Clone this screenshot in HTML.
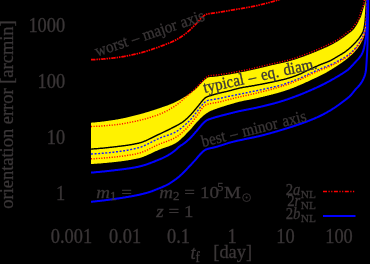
<!DOCTYPE html>
<html><head><meta charset="utf-8"><title>plot</title>
<style>
html,body{margin:0;padding:0;background:#000;}
body{width:370px;height:264px;overflow:hidden;}
svg{display:block;will-change:transform;}
text{font-family:"Liberation Serif",serif;fill:#3a3637;stroke:#3a3637;stroke-width:0.3px;}
</style></head><body>
<svg width="370" height="264" viewBox="0 0 370 264">
<rect width="370" height="264" fill="#000"/>
<path d="M91.0 122.7L91.5 122.7L92.0 122.6L92.5 122.6L93.0 122.6L93.5 122.5L94.0 122.5L94.5 122.4L95.0 122.4L95.5 122.3L96.0 122.3L96.5 122.2L97.0 122.2L97.5 122.1L98.0 122.1L98.5 122.0L99.0 122.0L99.5 121.9L100.0 121.9L100.5 121.8L101.0 121.8L101.5 121.7L102.0 121.6L102.5 121.6L103.0 121.5L103.5 121.4L104.0 121.4L104.5 121.3L105.0 121.3L105.5 121.2L106.0 121.1L106.5 121.1L107.0 121.0L107.5 120.9L108.0 120.8L108.5 120.8L109.0 120.7L109.5 120.6L110.0 120.6L110.5 120.5L111.0 120.4L111.5 120.3L112.0 120.3L112.5 120.2L113.0 120.1L113.5 120.0L114.0 120.0L114.5 119.9L115.0 119.8L115.5 119.7L116.0 119.6L116.5 119.6L117.0 119.5L117.5 119.4L118.0 119.3L118.5 119.2L119.0 119.1L119.5 119.0L120.0 118.9L120.5 118.8L121.0 118.7L121.5 118.6L122.0 118.5L122.5 118.4L123.0 118.3L123.5 118.2L124.0 118.1L124.5 118.0L125.0 117.9L125.5 117.8L126.0 117.7L126.5 117.5L127.0 117.4L127.5 117.3L128.0 117.2L128.5 117.1L129.0 117.0L129.5 116.8L130.0 116.7L130.5 116.6L131.0 116.5L131.5 116.3L132.0 116.2L132.5 116.1L133.0 116.0L133.5 115.8L134.0 115.7L134.5 115.6L135.0 115.5L135.5 115.3L136.0 115.2L136.5 115.1L137.0 115.0L137.5 114.8L138.0 114.7L138.5 114.6L139.0 114.4L139.5 114.3L140.0 114.2L140.5 114.0L141.0 113.9L141.5 113.8L142.0 113.6L142.5 113.5L143.0 113.4L143.5 113.2L144.0 113.1L144.5 112.9L145.0 112.8L145.5 112.6L146.0 112.5L146.5 112.3L147.0 112.2L147.5 112.0L148.0 111.9L148.5 111.7L149.0 111.6L149.5 111.4L150.0 111.3L150.5 111.1L151.0 111.0L151.5 110.8L152.0 110.6L152.5 110.5L153.0 110.3L153.5 110.2L154.0 110.0L154.5 109.8L155.0 109.7L155.5 109.5L156.0 109.3L156.5 109.2L157.0 109.0L157.5 108.8L158.0 108.7L158.5 108.5L159.0 108.3L159.5 108.2L160.0 108.0L160.5 107.8L161.0 107.7L161.5 107.5L162.0 107.3L162.5 107.1L163.0 107.0L163.5 106.8L164.0 106.6L164.5 106.5L165.0 106.3L165.5 106.1L166.0 105.9L166.5 105.7L167.0 105.6L167.5 105.4L168.0 105.2L168.5 105.0L169.0 104.8L169.5 104.6L170.0 104.4L170.5 104.2L171.0 104.0L171.5 103.8L172.0 103.6L172.5 103.4L173.0 103.2L173.5 103.0L174.0 102.8L174.5 102.5L175.0 102.3L175.5 102.1L176.0 101.8L176.5 101.6L177.0 101.3L177.5 101.1L178.0 100.8L178.5 100.5L179.0 100.3L179.5 100.0L180.0 99.7L180.5 99.4L181.0 99.1L181.5 98.8L182.0 98.5L182.5 98.2L183.0 97.9L183.5 97.6L184.0 97.3L184.5 97.0L185.0 96.7L185.5 96.4L186.0 96.1L186.5 95.8L187.0 95.4L187.5 95.1L188.0 94.8L188.5 94.4L189.0 94.1L189.5 93.8L190.0 93.4L190.5 93.1L191.0 92.7L191.5 92.4L192.0 92.0L192.5 91.6L193.0 91.2L193.5 90.8L194.0 90.4L194.5 90.0L195.0 89.6L195.5 89.2L196.0 88.7L196.5 88.2L197.0 87.7L197.5 87.2L198.0 86.7L198.5 86.2L199.0 85.6L199.5 85.1L200.0 84.5L200.5 84.0L201.0 83.5L201.5 83.0L202.0 82.5L202.5 82.0L203.0 81.5L203.5 81.0L204.0 80.5L204.5 80.0L205.0 79.6L205.5 79.2L206.0 78.8L206.5 78.4L207.0 78.1L207.5 77.8L208.0 77.5L208.5 77.3L209.0 77.2L209.5 77.2L210.0 77.1L210.5 77.0L211.0 77.0L211.5 77.0L212.0 76.9L212.5 76.9L213.0 76.9L213.5 76.8L214.0 76.8L214.5 76.8L215.0 76.7L215.5 76.6L216.0 76.6L216.5 76.5L217.0 76.5L217.5 76.4L218.0 76.3L218.5 76.2L219.0 76.2L219.5 76.1L220.0 76.0L220.5 75.9L221.0 75.9L221.5 75.8L222.0 75.7L222.5 75.6L223.0 75.5L223.5 75.4L224.0 75.4L224.5 75.3L225.0 75.2L225.5 75.1L226.0 75.0L226.5 75.0L227.0 74.9L227.5 74.8L228.0 74.7L228.5 74.6L229.0 74.5L229.5 74.4L230.0 74.4L230.5 74.3L231.0 74.2L231.5 74.1L232.0 74.0L232.5 73.9L233.0 73.8L233.5 73.7L234.0 73.6L234.5 73.5L235.0 73.5L235.5 73.4L236.0 73.3L236.5 73.2L237.0 73.1L237.5 73.0L238.0 72.9L238.5 72.8L239.0 72.7L239.5 72.6L240.0 72.5L240.5 72.4L241.0 72.3L241.5 72.2L242.0 72.1L242.5 72.0L243.0 71.9L243.5 71.8L244.0 71.7L244.5 71.6L245.0 71.5L245.5 71.4L246.0 71.3L246.5 71.2L247.0 71.1L247.5 71.0L248.0 70.8L248.5 70.7L249.0 70.6L249.5 70.5L250.0 70.4L250.5 70.3L251.0 70.2L251.5 70.1L252.0 70.0L252.5 69.9L253.0 69.7L253.5 69.6L254.0 69.5L254.5 69.4L255.0 69.3L255.5 69.2L256.0 69.1L256.5 69.0L257.0 68.8L257.5 68.7L258.0 68.6L258.5 68.5L259.0 68.4L259.5 68.2L260.0 68.1L260.5 68.0L261.0 67.9L261.5 67.8L262.0 67.6L262.5 67.5L263.0 67.4L263.5 67.3L264.0 67.2L264.5 67.0L265.0 66.9L265.5 66.8L266.0 66.7L266.5 66.5L267.0 66.4L267.5 66.3L268.0 66.2L268.5 66.1L269.0 65.9L269.5 65.8L270.0 65.7L270.5 65.6L271.0 65.5L271.5 65.3L272.0 65.2L272.5 65.1L273.0 65.0L273.5 64.9L274.0 64.8L274.5 64.7L275.0 64.6L275.5 64.4L276.0 64.3L276.5 64.2L277.0 64.1L277.5 64.0L278.0 63.9L278.5 63.8L279.0 63.7L279.5 63.6L280.0 63.5L280.5 63.3L281.0 63.2L281.5 63.1L282.0 63.0L282.5 62.9L283.0 62.8L283.5 62.7L284.0 62.5L284.5 62.4L285.0 62.3L285.5 62.2L286.0 62.0L286.5 61.9L287.0 61.8L287.5 61.7L288.0 61.5L288.5 61.4L289.0 61.3L289.5 61.1L290.0 61.0L290.5 60.9L291.0 60.7L291.5 60.6L292.0 60.4L292.5 60.3L293.0 60.1L293.5 60.0L294.0 59.8L294.5 59.7L295.0 59.5L295.5 59.3L296.0 59.2L296.5 59.0L297.0 58.8L297.5 58.7L298.0 58.5L298.5 58.3L299.0 58.1L299.5 58.0L300.0 57.8L300.5 57.6L301.0 57.4L301.5 57.3L302.0 57.1L302.5 56.9L303.0 56.7L303.5 56.5L304.0 56.4L304.5 56.2L305.0 56.0L305.5 55.8L306.0 55.6L306.5 55.4L307.0 55.3L307.5 55.1L308.0 54.9L308.5 54.7L309.0 54.5L309.5 54.3L310.0 54.1L310.5 53.9L311.0 53.7L311.5 53.5L312.0 53.3L312.5 53.1L313.0 52.9L313.5 52.7L314.0 52.5L314.5 52.3L315.0 52.1L315.5 51.9L316.0 51.7L316.5 51.5L317.0 51.3L317.5 51.1L318.0 50.8L318.5 50.6L319.0 50.4L319.5 50.2L320.0 50.0L320.5 49.8L321.0 49.6L321.5 49.4L322.0 49.1L322.5 48.9L323.0 48.7L323.5 48.5L324.0 48.3L324.5 48.1L325.0 47.8L325.5 47.6L326.0 47.4L326.5 47.2L327.0 46.9L327.5 46.7L328.0 46.5L328.5 46.2L329.0 46.0L329.5 45.7L330.0 45.5L330.5 45.2L331.0 45.0L331.5 44.7L332.0 44.5L332.5 44.2L333.0 43.9L333.5 43.7L334.0 43.4L334.5 43.1L335.0 42.8L335.5 42.5L336.0 42.2L336.5 41.9L337.0 41.7L337.5 41.4L338.0 41.0L338.5 40.7L339.0 40.4L339.5 40.1L340.0 39.8L340.5 39.5L341.0 39.1L341.5 38.8L342.0 38.5L342.5 38.1L343.0 37.8L343.5 37.4L344.0 37.0L344.5 36.7L345.0 36.3L345.5 35.9L346.0 35.6L346.5 35.2L347.0 34.8L347.5 34.4L348.0 34.1L348.5 33.7L349.0 33.3L349.5 33.0L350.0 32.6L350.5 32.2L351.0 31.8L351.5 31.4L352.0 31.0L352.5 30.5L353.0 30.0L353.5 29.5L354.0 28.9L354.5 28.2L355.0 27.6L355.5 26.8L356.0 26.1L356.5 25.3L357.0 24.5L357.5 23.6L358.0 22.7L358.5 21.6L359.0 20.6L359.5 19.6L360.0 18.6L360.5 17.7L361.0 16.5L361.5 15.1L362.0 13.4L362.5 11.6L363.0 9.8L363.5 8.0L364.0 6.4L364.5 5.0L365.0 3.3L365.5 1.0L366.0 -3.0L367.7 -3.0L367.5 0.0L367.0 13.3L366.5 22.6L366.0 27.8L365.5 31.0L365.0 33.1L364.5 35.0L364.0 36.6L363.5 37.9L363.0 39.1L362.5 40.2L362.0 41.2L361.5 42.1L361.0 43.0L360.5 43.9L360.0 44.7L359.5 45.5L359.0 46.3L358.5 47.0L358.0 47.7L357.5 48.4L357.0 49.0L356.5 49.6L356.0 50.2L355.5 50.8L355.0 51.3L354.5 51.9L354.0 52.4L353.5 53.0L353.0 53.5L352.5 53.9L352.0 54.4L351.5 54.9L351.0 55.3L350.5 55.8L350.0 56.2L349.5 56.6L349.0 57.1L348.5 57.5L348.0 57.9L347.5 58.4L347.0 58.8L346.5 59.2L346.0 59.6L345.5 60.0L345.0 60.4L344.5 60.7L344.0 61.1L343.5 61.5L343.0 61.8L342.5 62.2L342.0 62.5L341.5 62.9L341.0 63.2L340.5 63.5L340.0 63.9L339.5 64.2L339.0 64.6L338.5 64.9L338.0 65.2L337.5 65.6L337.0 65.9L336.5 66.2L336.0 66.6L335.5 66.9L335.0 67.2L334.5 67.5L334.0 67.8L333.5 68.2L333.0 68.5L332.5 68.8L332.0 69.1L331.5 69.4L331.0 69.7L330.5 70.0L330.0 70.3L329.5 70.6L329.0 70.9L328.5 71.2L328.0 71.5L327.5 71.8L327.0 72.1L326.5 72.4L326.0 72.7L325.5 72.9L325.0 73.2L324.5 73.5L324.0 73.7L323.5 74.0L323.0 74.2L322.5 74.5L322.0 74.7L321.5 75.0L321.0 75.2L320.5 75.5L320.0 75.7L319.5 75.9L319.0 76.2L318.5 76.4L318.0 76.7L317.5 76.9L317.0 77.2L316.5 77.4L316.0 77.7L315.5 77.9L315.0 78.1L314.5 78.4L314.0 78.6L313.5 78.9L313.0 79.1L312.5 79.3L312.0 79.6L311.5 79.8L311.0 80.0L310.5 80.3L310.0 80.5L309.5 80.7L309.0 81.0L308.5 81.2L308.0 81.4L307.5 81.7L307.0 81.9L306.5 82.1L306.0 82.3L305.5 82.6L305.0 82.8L304.5 83.0L304.0 83.3L303.5 83.5L303.0 83.7L302.5 83.9L302.0 84.1L301.5 84.4L301.0 84.6L300.5 84.8L300.0 85.0L299.5 85.2L299.0 85.4L298.5 85.6L298.0 85.8L297.5 86.1L297.0 86.3L296.5 86.5L296.0 86.7L295.5 86.9L295.0 87.1L294.5 87.3L294.0 87.5L293.5 87.7L293.0 87.9L292.5 88.1L292.0 88.3L291.5 88.4L291.0 88.6L290.5 88.8L290.0 89.0L289.5 89.2L289.0 89.4L288.5 89.5L288.0 89.7L287.5 89.9L287.0 90.1L286.5 90.2L286.0 90.4L285.5 90.6L285.0 90.7L284.5 90.9L284.0 91.1L283.5 91.2L283.0 91.4L282.5 91.5L282.0 91.7L281.5 91.8L281.0 92.0L280.5 92.2L280.0 92.3L279.5 92.4L279.0 92.6L278.5 92.7L278.0 92.9L277.5 93.0L277.0 93.2L276.5 93.3L276.0 93.4L275.5 93.6L275.0 93.7L274.5 93.8L274.0 94.0L273.5 94.1L273.0 94.2L272.5 94.4L272.0 94.5L271.5 94.6L271.0 94.7L270.5 94.9L270.0 95.0L269.5 95.1L269.0 95.3L268.5 95.4L268.0 95.5L267.5 95.6L267.0 95.8L266.5 95.9L266.0 96.0L265.5 96.1L265.0 96.3L264.5 96.4L264.0 96.5L263.5 96.6L263.0 96.7L262.5 96.9L262.0 97.0L261.5 97.1L261.0 97.2L260.5 97.3L260.0 97.5L259.5 97.6L259.0 97.7L258.5 97.8L258.0 97.9L257.5 98.0L257.0 98.2L256.5 98.3L256.0 98.4L255.5 98.5L255.0 98.6L254.5 98.7L254.0 98.8L253.5 98.9L253.0 99.0L252.5 99.1L252.0 99.2L251.5 99.3L251.0 99.4L250.5 99.5L250.0 99.6L249.5 99.7L249.0 99.8L248.5 99.9L248.0 100.0L247.5 100.1L247.0 100.2L246.5 100.3L246.0 100.3L245.5 100.4L245.0 100.5L244.5 100.6L244.0 100.7L243.5 100.8L243.0 100.9L242.5 101.0L242.0 101.2L241.5 101.3L241.0 101.4L240.5 101.5L240.0 101.6L239.5 101.7L239.0 101.8L238.5 102.0L238.0 102.1L237.5 102.2L237.0 102.4L236.5 102.5L236.0 102.6L235.5 102.8L235.0 102.9L234.5 103.1L234.0 103.2L233.5 103.4L233.0 103.5L232.5 103.7L232.0 103.8L231.5 104.0L231.0 104.1L230.5 104.3L230.0 104.4L229.5 104.5L229.0 104.7L228.5 104.8L228.0 105.0L227.5 105.1L227.0 105.3L226.5 105.4L226.0 105.6L225.5 105.7L225.0 105.9L224.5 106.1L224.0 106.2L223.5 106.4L223.0 106.5L222.5 106.7L222.0 106.8L221.5 107.0L221.0 107.2L220.5 107.3L220.0 107.5L219.5 107.7L219.0 107.8L218.5 108.0L218.0 108.2L217.5 108.3L217.0 108.5L216.5 108.7L216.0 108.9L215.5 109.1L215.0 109.2L214.5 109.4L214.0 109.6L213.5 109.8L213.0 110.0L212.5 110.2L212.0 110.4L211.5 110.6L211.0 110.8L210.5 111.1L210.0 111.3L209.5 111.6L209.0 111.8L208.5 112.1L208.0 112.4L207.5 112.7L207.0 113.0L206.5 113.3L206.0 113.7L205.5 114.0L205.0 114.4L204.5 114.8L204.0 115.2L203.5 115.6L203.0 116.0L202.5 116.4L202.0 116.9L201.5 117.4L201.0 117.8L200.5 118.3L200.0 118.8L199.5 119.4L199.0 119.9L198.5 120.4L198.0 120.9L197.5 121.5L197.0 122.0L196.5 122.5L196.0 123.1L195.5 123.7L195.0 124.3L194.5 124.8L194.0 125.4L193.5 126.0L193.0 126.6L192.5 127.2L192.0 127.8L191.5 128.4L191.0 128.9L190.5 129.5L190.0 130.0L189.5 130.5L189.0 131.0L188.5 131.5L188.0 132.1L187.5 132.6L187.0 133.1L186.5 133.6L186.0 134.1L185.5 134.7L185.0 135.2L184.5 135.7L184.0 136.2L183.5 136.7L183.0 137.2L182.5 137.6L182.0 138.1L181.5 138.6L181.0 139.0L180.5 139.5L180.0 139.9L179.5 140.3L179.0 140.8L178.5 141.2L178.0 141.5L177.5 141.9L177.0 142.3L176.5 142.6L176.0 142.9L175.5 143.2L175.0 143.5L174.5 143.8L174.0 144.0L173.5 144.3L173.0 144.5L172.5 144.7L172.0 145.0L171.5 145.2L171.0 145.4L170.5 145.6L170.0 145.8L169.5 146.0L169.0 146.2L168.5 146.4L168.0 146.5L167.5 146.7L167.0 146.9L166.5 147.1L166.0 147.2L165.5 147.4L165.0 147.6L164.5 147.8L164.0 147.9L163.5 148.1L163.0 148.3L162.5 148.5L162.0 148.6L161.5 148.8L161.0 149.0L160.5 149.2L160.0 149.4L159.5 149.6L159.0 149.8L158.5 150.0L158.0 150.2L157.5 150.5L157.0 150.7L156.5 150.9L156.0 151.1L155.5 151.3L155.0 151.6L154.5 151.8L154.0 152.0L153.5 152.3L153.0 152.5L152.5 152.7L152.0 153.0L151.5 153.2L151.0 153.5L150.5 153.7L150.0 153.9L149.5 154.1L149.0 154.4L148.5 154.6L148.0 154.8L147.5 155.1L147.0 155.3L146.5 155.5L146.0 155.7L145.5 155.9L145.0 156.1L144.5 156.3L144.0 156.5L143.5 156.7L143.0 156.9L142.5 157.1L142.0 157.2L141.5 157.4L141.0 157.6L140.5 157.7L140.0 157.9L139.5 158.0L139.0 158.2L138.5 158.3L138.0 158.4L137.5 158.5L137.0 158.6L136.5 158.7L136.0 158.8L135.5 158.9L135.0 159.0L134.5 159.1L134.0 159.2L133.5 159.3L133.0 159.4L132.5 159.5L132.0 159.6L131.5 159.7L131.0 159.8L130.5 159.9L130.0 160.0L129.5 160.1L129.0 160.1L128.5 160.2L128.0 160.3L127.5 160.4L127.0 160.5L126.5 160.5L126.0 160.6L125.5 160.7L125.0 160.8L124.5 160.8L124.0 160.9L123.5 161.0L123.0 161.0L122.5 161.1L122.0 161.2L121.5 161.2L121.0 161.3L120.5 161.4L120.0 161.4L119.5 161.5L119.0 161.5L118.5 161.6L118.0 161.7L117.5 161.7L117.0 161.8L116.5 161.8L116.0 161.9L115.5 161.9L115.0 162.0L114.5 162.1L114.0 162.1L113.5 162.2L113.0 162.2L112.5 162.3L112.0 162.3L111.5 162.4L111.0 162.4L110.5 162.5L110.0 162.5L109.5 162.6L109.0 162.6L108.5 162.7L108.0 162.7L107.5 162.8L107.0 162.8L106.5 162.9L106.0 162.9L105.5 163.0L105.0 163.0L104.5 163.1L104.0 163.1L103.5 163.1L103.0 163.2L102.5 163.2L102.0 163.3L101.5 163.3L101.0 163.4L100.5 163.4L100.0 163.4L99.5 163.5L99.0 163.5L98.5 163.5L98.0 163.6L97.5 163.6L97.0 163.7L96.5 163.7L96.0 163.7L95.5 163.8L95.0 163.8L94.5 163.8L94.0 163.8L93.5 163.9L93.0 163.9L92.5 163.9L92.0 164.0L91.5 164.0L91.0 164.0Z" fill="#fff200"/>
<path d="M91.0 149.1L91.5 149.1L92.0 149.0L92.5 149.0L93.0 149.0L93.5 148.9L94.0 148.9L94.5 148.8L95.0 148.8L95.5 148.8L96.0 148.7L96.5 148.7L97.0 148.6L97.5 148.6L98.0 148.6L98.5 148.5L99.0 148.5L99.5 148.4L100.0 148.4L100.5 148.3L101.0 148.3L101.5 148.2L102.0 148.2L102.5 148.2L103.0 148.1L103.5 148.1L104.0 148.0L104.5 148.0L105.0 147.9L105.5 147.9L106.0 147.8L106.5 147.7L107.0 147.7L107.5 147.6L108.0 147.6L108.5 147.5L109.0 147.5L109.5 147.4L110.0 147.4L110.5 147.3L111.0 147.3L111.5 147.2L112.0 147.1L112.5 147.1L113.0 147.0L113.5 147.0L114.0 146.9L114.5 146.9L115.0 146.8L115.5 146.7L116.0 146.7L116.5 146.6L117.0 146.6L117.5 146.5L118.0 146.4L118.5 146.4L119.0 146.3L119.5 146.3L120.0 146.2L120.5 146.1L121.0 146.1L121.5 146.0L122.0 146.0L122.5 145.9L123.0 145.8L123.5 145.8L124.0 145.7L124.5 145.6L125.0 145.6L125.5 145.5L126.0 145.4L126.5 145.4L127.0 145.3L127.5 145.2L128.0 145.1L128.5 145.1L129.0 145.0L129.5 144.9L130.0 144.8L130.5 144.7L131.0 144.7L131.5 144.6L132.0 144.5L132.5 144.4L133.0 144.3L133.5 144.2L134.0 144.1L134.5 144.0L135.0 143.9L135.5 143.8L136.0 143.7L136.5 143.6L137.0 143.5L137.5 143.4L138.0 143.3L138.5 143.2L139.0 143.1L139.5 142.9L140.0 142.8L140.5 142.6L141.0 142.5L141.5 142.3L142.0 142.1L142.5 142.0L143.0 141.8L143.5 141.6L144.0 141.4L144.5 141.2L145.0 141.0L145.5 140.8L146.0 140.6L146.5 140.3L147.0 140.1L147.5 139.9L148.0 139.7L148.5 139.4L149.0 139.2L149.5 138.9L150.0 138.7L150.5 138.5L151.0 138.2L151.5 138.0L152.0 137.7L152.5 137.5L153.0 137.2L153.5 137.0L154.0 136.7L154.5 136.5L155.0 136.2L155.5 136.0L156.0 135.7L156.5 135.5L157.0 135.2L157.5 135.0L158.0 134.7L158.5 134.5L159.0 134.3L159.5 134.0L160.0 133.8L160.5 133.6L161.0 133.3L161.5 133.1L162.0 132.9L162.5 132.6L163.0 132.4L163.5 132.2L164.0 131.9L164.5 131.7L165.0 131.5L165.5 131.2L166.0 131.0L166.5 130.7L167.0 130.5L167.5 130.3L168.0 130.0L168.5 129.8L169.0 129.5L169.5 129.3L170.0 129.0L170.5 128.8L171.0 128.5L171.5 128.2L172.0 128.0L172.5 127.7L173.0 127.5L173.5 127.2L174.0 127.0L174.5 126.7L175.0 126.5L175.5 126.2L176.0 126.0L176.5 125.7L177.0 125.4L177.5 125.2L178.0 124.9L178.5 124.6L179.0 124.3L179.5 124.0L180.0 123.7L180.5 123.4L181.0 123.1L181.5 122.8L182.0 122.5L182.5 122.1L183.0 121.8L183.5 121.4L184.0 121.0L184.5 120.6L185.0 120.2L185.5 119.8L186.0 119.3L186.5 118.9L187.0 118.4L187.5 118.0L188.0 117.5L188.5 117.0L189.0 116.5L189.5 116.0L190.0 115.5L190.5 115.0L191.0 114.5L191.5 113.9L192.0 113.3L192.5 112.8L193.0 112.2L193.5 111.6L194.0 111.0L194.5 110.4L195.0 109.8L195.5 109.2L196.0 108.6L196.5 108.0L197.0 107.4L197.5 106.8L198.0 106.2L198.5 105.6L199.0 105.0L199.5 104.3L200.0 103.7L200.5 103.1L201.0 102.4L201.5 101.8L202.0 101.2L202.5 100.6L203.0 100.0L203.5 99.5L204.0 99.0L204.5 98.6L205.0 98.1L205.5 97.7L206.0 97.4L206.5 97.1L207.0 96.8L207.5 96.6L208.0 96.4L208.5 96.2L209.0 96.1L209.5 95.9L210.0 95.8L210.5 95.6L211.0 95.5L211.5 95.3L212.0 95.2L212.5 95.0L213.0 94.9L213.5 94.7L214.0 94.6L214.5 94.4L215.0 94.3L215.5 94.2L216.0 94.0L216.5 93.9L217.0 93.8L217.5 93.6L218.0 93.5L218.5 93.4L219.0 93.3L219.5 93.1L220.0 93.0L220.5 92.9L221.0 92.8L221.5 92.7L222.0 92.5L222.5 92.4L223.0 92.3L223.5 92.2L224.0 92.1L224.5 91.9L225.0 91.8L225.5 91.7L226.0 91.6L226.5 91.5L227.0 91.3L227.5 91.2L228.0 91.1L228.5 91.0L229.0 90.9L229.5 90.7L230.0 90.6L230.5 90.5L231.0 90.3L231.5 90.2L232.0 90.1L232.5 89.9L233.0 89.8L233.5 89.7L234.0 89.5L234.5 89.4L235.0 89.2L235.5 89.1L236.0 89.0L236.5 88.8L237.0 88.7L237.5 88.6L238.0 88.5L238.5 88.3L239.0 88.2L239.5 88.1L240.0 88.0L240.5 87.9L241.0 87.8L241.5 87.7L242.0 87.6L242.5 87.5L243.0 87.4L243.5 87.3L244.0 87.2L244.5 87.1L245.0 87.1L245.5 87.0L246.0 86.9L246.5 86.8L247.0 86.7L247.5 86.7L248.0 86.6L248.5 86.5L249.0 86.4L249.5 86.3L250.0 86.3L250.5 86.2L251.0 86.1L251.5 86.0L252.0 85.9L252.5 85.8L253.0 85.8L253.5 85.7L254.0 85.6L254.5 85.5L255.0 85.4L255.5 85.3L256.0 85.2L256.5 85.1L257.0 85.0L257.5 84.9L258.0 84.8L258.5 84.7L259.0 84.6L259.5 84.6L260.0 84.5L260.5 84.4L261.0 84.3L261.5 84.2L262.0 84.1L262.5 84.0L263.0 83.9L263.5 83.8L264.0 83.7L264.5 83.6L265.0 83.5L265.5 83.4L266.0 83.3L266.5 83.2L267.0 83.1L267.5 83.0L268.0 82.9L268.5 82.8L269.0 82.7L269.5 82.6L270.0 82.5L270.5 82.4L271.0 82.3L271.5 82.2L272.0 82.1L272.5 82.0L273.0 81.9L273.5 81.8L274.0 81.6L274.5 81.5L275.0 81.4L275.5 81.3L276.0 81.2L276.5 81.1L277.0 81.0L277.5 80.9L278.0 80.8L278.5 80.6L279.0 80.5L279.5 80.4L280.0 80.3L280.5 80.2L281.0 80.1L281.5 79.9L282.0 79.8L282.5 79.7L283.0 79.6L283.5 79.5L284.0 79.3L284.5 79.2L285.0 79.1L285.5 79.0L286.0 78.8L286.5 78.7L287.0 78.6L287.5 78.4L288.0 78.3L288.5 78.1L289.0 78.0L289.5 77.9L290.0 77.7L290.5 77.5L291.0 77.4L291.5 77.2L292.0 77.1L292.5 76.9L293.0 76.7L293.5 76.5L294.0 76.4L294.5 76.2L295.0 76.0L295.5 75.8L296.0 75.6L296.5 75.4L297.0 75.2L297.5 75.0L298.0 74.8L298.5 74.6L299.0 74.4L299.5 74.2L300.0 74.0L300.5 73.8L301.0 73.6L301.5 73.3L302.0 73.1L302.5 72.9L303.0 72.6L303.5 72.4L304.0 72.1L304.5 71.9L305.0 71.7L305.5 71.4L306.0 71.1L306.5 70.9L307.0 70.6L307.5 70.4L308.0 70.2L308.5 69.9L309.0 69.7L309.5 69.4L310.0 69.2L310.5 69.0L311.0 68.7L311.5 68.5L312.0 68.3L312.5 68.1L313.0 67.8L313.5 67.6L314.0 67.4L314.5 67.2L315.0 66.9L315.5 66.7L316.0 66.5L316.5 66.3L317.0 66.1L317.5 65.9L318.0 65.6L318.5 65.4L319.0 65.2L319.5 65.0L320.0 64.8L320.5 64.6L321.0 64.4L321.5 64.2L322.0 64.0L322.5 63.8L323.0 63.6L323.5 63.4L324.0 63.2L324.5 63.1L325.0 62.9L325.5 62.7L326.0 62.5L326.5 62.3L327.0 62.1L327.5 61.9L328.0 61.7L328.5 61.5L329.0 61.3L329.5 61.0L330.0 60.8L330.5 60.6L331.0 60.3L331.5 60.0L332.0 59.8L332.5 59.5L333.0 59.2L333.5 58.9L334.0 58.6L334.5 58.3L335.0 58.0L335.5 57.7L336.0 57.4L336.5 57.1L337.0 56.8L337.5 56.5L338.0 56.2L338.5 55.9L339.0 55.6L339.5 55.3L340.0 55.0L340.5 54.7L341.0 54.5L341.5 54.2L342.0 53.9L342.5 53.6L343.0 53.2L343.5 52.9L344.0 52.6L344.5 52.3L345.0 51.9L345.5 51.6L346.0 51.2L346.5 50.8L347.0 50.4L347.5 50.0L348.0 49.6L348.5 49.2L349.0 48.7L349.5 48.3L350.0 47.9L350.5 47.4L351.0 47.0L351.5 46.5L352.0 46.0L352.5 45.5L353.0 45.1L353.5 44.6L354.0 44.0L354.5 43.5L355.0 43.0L355.5 42.5L356.0 41.9L356.5 41.4L357.0 40.8L357.5 40.2L358.0 39.6L358.5 39.0L359.0 38.4L359.5 37.7L360.0 37.0L360.5 36.2L361.0 35.5L361.5 34.7L362.0 33.8L362.5 32.9L363.0 31.7L363.5 30.3L364.0 28.4L364.5 25.5L365.0 21.8L365.5 16.4L366.0 8.4L366.5 -0.2L366.6 -2.0" fill="none" stroke="#000" stroke-width="1.4"/>
<path d="M91.0 154.0L91.5 154.0L92.0 154.0L92.5 153.9L93.0 153.9L93.5 153.9L94.0 153.9L94.5 153.8L95.0 153.8L95.5 153.8L96.0 153.8L96.5 153.7L97.0 153.7L97.5 153.7L98.0 153.6L98.5 153.6L99.0 153.6L99.5 153.5L100.0 153.5L100.5 153.4L101.0 153.4L101.5 153.4L102.0 153.3L102.5 153.3L103.0 153.2L103.5 153.2L104.0 153.1L104.5 153.1L105.0 153.1L105.5 153.0L106.0 153.0L106.5 152.9L107.0 152.9L107.5 152.8L108.0 152.8L108.5 152.7L109.0 152.7L109.5 152.6L110.0 152.6L110.5 152.5L111.0 152.4L111.5 152.4L112.0 152.3L112.5 152.3L113.0 152.2L113.5 152.2L114.0 152.1L114.5 152.1L115.0 152.0L115.5 151.9L116.0 151.9L116.5 151.8L117.0 151.8L117.5 151.7L118.0 151.6L118.5 151.6L119.0 151.5L119.5 151.4L120.0 151.4L120.5 151.3L121.0 151.2L121.5 151.2L122.0 151.1L122.5 151.0L123.0 150.9L123.5 150.9L124.0 150.8L124.5 150.7L125.0 150.6L125.5 150.5L126.0 150.4L126.5 150.4L127.0 150.3L127.5 150.2L128.0 150.1L128.5 150.0L129.0 149.9L129.5 149.8L130.0 149.7L130.5 149.6L131.0 149.5L131.5 149.4L132.0 149.3L132.5 149.2L133.0 149.1L133.5 149.0L134.0 148.9L134.5 148.7L135.0 148.6L135.5 148.5L136.0 148.4L136.5 148.3L137.0 148.2L137.5 148.0L138.0 147.9L138.5 147.8L139.0 147.6L139.5 147.5L140.0 147.3L140.5 147.1L141.0 147.0L141.5 146.8L142.0 146.6L142.5 146.4L143.0 146.2L143.5 146.0L144.0 145.8L144.5 145.5L145.0 145.3L145.5 145.1L146.0 144.9L146.5 144.6L147.0 144.4L147.5 144.1L148.0 143.9L148.5 143.6L149.0 143.4L149.5 143.1L150.0 142.9L150.5 142.6L151.0 142.3L151.5 142.1L152.0 141.8L152.5 141.6L153.0 141.3L153.5 141.1L154.0 140.8L154.5 140.6L155.0 140.3L155.5 140.1L156.0 139.8L156.5 139.6L157.0 139.3L157.5 139.1L158.0 138.9L158.5 138.6L159.0 138.4L159.5 138.2L160.0 138.0L160.5 137.8L161.0 137.6L161.5 137.4L162.0 137.2L162.5 137.0L163.0 136.9L163.5 136.7L164.0 136.5L164.5 136.4L165.0 136.2L165.5 136.0L166.0 135.9L166.5 135.7L167.0 135.5L167.5 135.4L168.0 135.2L168.5 135.0L169.0 134.8L169.5 134.7L170.0 134.5L170.5 134.3L171.0 134.1L171.5 133.9L172.0 133.7L172.5 133.5L173.0 133.3L173.5 133.0L174.0 132.8L174.5 132.6L175.0 132.3L175.5 132.0L176.0 131.8L176.5 131.5L177.0 131.2L177.5 130.9L178.0 130.5L178.5 130.2L179.0 129.8L179.5 129.5L180.0 129.1L180.5 128.7L181.0 128.4L181.5 128.0L182.0 127.6L182.5 127.1L183.0 126.7L183.5 126.3L184.0 125.9L184.5 125.4L185.0 125.0L185.5 124.5L186.0 124.1L186.5 123.6L187.0 123.1L187.5 122.6L188.0 122.2L188.5 121.7L189.0 121.2L189.5 120.7L190.0 120.2L190.5 119.7L191.0 119.1L191.5 118.6L192.0 118.0L192.5 117.4L193.0 116.8L193.5 116.1L194.0 115.5L194.5 114.8L195.0 114.2L195.5 113.5L196.0 112.9L196.5 112.2L197.0 111.6L197.5 111.0L198.0 110.4L198.5 109.7L199.0 109.1L199.5 108.4L200.0 107.7L200.5 107.0L201.0 106.4L201.5 105.7L202.0 105.1L202.5 104.5L203.0 103.9L203.5 103.3L204.0 102.9L204.5 102.4L205.0 102.1L205.5 101.7L206.0 101.4L206.5 101.1L207.0 100.8L207.5 100.6L208.0 100.4L208.5 100.3L209.0 100.2L209.5 100.1L210.0 100.0L210.5 99.9L211.0 99.9L211.5 99.8L212.0 99.7L212.5 99.6L213.0 99.5L213.5 99.5L214.0 99.4L214.5 99.3L215.0 99.2L215.5 99.1L216.0 99.0L216.5 98.9L217.0 98.9L217.5 98.8L218.0 98.7L218.5 98.6L219.0 98.5L219.5 98.4L220.0 98.3L220.5 98.2L221.0 98.1L221.5 98.0L222.0 97.9L222.5 97.8L223.0 97.7L223.5 97.6L224.0 97.4L224.5 97.3L225.0 97.2L225.5 97.1L226.0 97.0L226.5 96.9L227.0 96.8L227.5 96.7L228.0 96.5L228.5 96.4L229.0 96.3L229.5 96.2L230.0 96.1L230.5 96.0L231.0 95.9L231.5 95.8L232.0 95.7L232.5 95.6L233.0 95.5L233.5 95.4L234.0 95.3L234.5 95.2L235.0 95.1L235.5 95.0L236.0 94.9L236.5 94.8L237.0 94.7L237.5 94.6L238.0 94.5L238.5 94.4L239.0 94.3L239.5 94.2L240.0 94.1L240.5 94.0L241.0 93.9L241.5 93.8L242.0 93.7L242.5 93.6L243.0 93.5L243.5 93.4L244.0 93.3L244.5 93.2L245.0 93.1L245.5 93.0L246.0 92.9L246.5 92.8L247.0 92.7L247.5 92.6L248.0 92.5L248.5 92.3L249.0 92.2L249.5 92.1L250.0 92.0L250.5 91.9L251.0 91.8L251.5 91.7L252.0 91.6L252.5 91.5L253.0 91.4L253.5 91.3L254.0 91.2L254.5 91.1L255.0 91.0L255.5 90.9L256.0 90.8L256.5 90.7L257.0 90.6L257.5 90.5L258.0 90.4L258.5 90.3L259.0 90.2L259.5 90.1L260.0 90.0L260.5 89.9L261.0 89.8L261.5 89.6L262.0 89.5L262.5 89.4L263.0 89.3L263.5 89.2L264.0 89.1L264.5 89.0L265.0 88.9L265.5 88.8L266.0 88.7L266.5 88.6L267.0 88.5L267.5 88.4L268.0 88.3L268.5 88.2L269.0 88.1L269.5 88.0L270.0 87.9L270.5 87.7L271.0 87.6L271.5 87.5L272.0 87.4L272.5 87.3L273.0 87.2L273.5 87.1L274.0 86.9L274.5 86.8L275.0 86.7L275.5 86.6L276.0 86.5L276.5 86.3L277.0 86.2L277.5 86.1L278.0 85.9L278.5 85.8L279.0 85.7L279.5 85.5L280.0 85.4L280.5 85.3L281.0 85.1L281.5 85.0L282.0 84.8L282.5 84.6L283.0 84.5L283.5 84.3L284.0 84.1L284.5 84.0L285.0 83.8L285.5 83.6L286.0 83.4L286.5 83.3L287.0 83.1L287.5 82.9L288.0 82.7L288.5 82.5L289.0 82.4L289.5 82.2L290.0 82.0L290.5 81.8L291.0 81.6L291.5 81.5L292.0 81.3L292.5 81.1L293.0 80.9L293.5 80.7L294.0 80.5L294.5 80.4L295.0 80.2L295.5 80.0L296.0 79.8L296.5 79.6L297.0 79.4L297.5 79.2L298.0 79.0L298.5 78.8L299.0 78.6L299.5 78.4L300.0 78.2L300.5 78.0L301.0 77.8L301.5 77.5L302.0 77.3L302.5 77.1L303.0 76.9L303.5 76.6L304.0 76.4L304.5 76.1L305.0 75.9L305.5 75.7L306.0 75.4L306.5 75.2L307.0 74.9L307.5 74.7L308.0 74.4L308.5 74.2L309.0 74.0L309.5 73.7L310.0 73.5L310.5 73.3L311.0 73.0L311.5 72.8L312.0 72.6L312.5 72.3L313.0 72.1L313.5 71.9L314.0 71.7L314.5 71.4L315.0 71.2L315.5 71.0L316.0 70.8L316.5 70.5L317.0 70.3L317.5 70.1L318.0 69.9L318.5 69.6L319.0 69.4L319.5 69.2L320.0 69.0L320.5 68.8L321.0 68.6L321.5 68.4L322.0 68.2L322.5 68.0L323.0 67.8L323.5 67.6L324.0 67.4L324.5 67.2L325.0 67.0L325.5 66.8L326.0 66.6L326.5 66.4L327.0 66.3L327.5 66.1L328.0 65.9L328.5 65.6L329.0 65.4L329.5 65.2L330.0 65.0L330.5 64.8L331.0 64.5L331.5 64.3L332.0 64.1L332.5 63.8L333.0 63.6L333.5 63.3L334.0 63.1L334.5 62.8L335.0 62.6L335.5 62.3L336.0 62.1L336.5 61.8L337.0 61.5L337.5 61.3L338.0 61.0L338.5 60.7L339.0 60.5L339.5 60.2L340.0 60.0L340.5 59.7L341.0 59.4L341.5 59.2L342.0 58.9L342.5 58.6L343.0 58.3L343.5 58.1L344.0 57.8L344.5 57.5L345.0 57.1L345.5 56.8L346.0 56.5L346.5 56.1L347.0 55.8L347.5 55.4L348.0 55.0L348.5 54.7L349.0 54.3L349.5 53.9L350.0 53.5L350.5 53.0L351.0 52.6L351.5 52.1L352.0 51.7L352.5 51.2L353.0 50.7L353.5 50.2L354.0 49.7L354.5 49.2L355.0 48.6L355.5 48.0L356.0 47.4L356.5 46.8L357.0 46.1L357.5 45.5L358.0 44.7L358.5 44.0L359.0 43.2L359.5 42.4L360.0 41.5L360.5 40.6L361.0 39.8L361.5 39.0L362.0 38.1L362.5 37.2L363.0 36.1L363.5 34.8L364.0 33.3L364.5 31.6L365.0 29.5L365.5 25.7L366.0 20.0L366.5 10.5L367.0 0.0L367.2 -3.0" fill="none" stroke="#1a1aff" stroke-width="1.4" stroke-dasharray="2 1.6"/>
<path d="M91.0 158.8L91.5 158.8L92.0 158.8L92.5 158.7L93.0 158.7L93.5 158.7L94.0 158.7L94.5 158.7L95.0 158.6L95.5 158.6L96.0 158.6L96.5 158.5L97.0 158.5L97.5 158.5L98.0 158.5L98.5 158.4L99.0 158.4L99.5 158.4L100.0 158.3L100.5 158.3L101.0 158.3L101.5 158.2L102.0 158.2L102.5 158.1L103.0 158.1L103.5 158.1L104.0 158.0L104.5 158.0L105.0 157.9L105.5 157.9L106.0 157.9L106.5 157.8L107.0 157.8L107.5 157.7L108.0 157.7L108.5 157.6L109.0 157.6L109.5 157.5L110.0 157.5L110.5 157.4L111.0 157.4L111.5 157.3L112.0 157.3L112.5 157.3L113.0 157.2L113.5 157.2L114.0 157.1L114.5 157.1L115.0 157.0L115.5 156.9L116.0 156.9L116.5 156.8L117.0 156.8L117.5 156.7L118.0 156.7L118.5 156.6L119.0 156.6L119.5 156.5L120.0 156.4L120.5 156.4L121.0 156.3L121.5 156.3L122.0 156.2L122.5 156.1L123.0 156.1L123.5 156.0L124.0 155.9L124.5 155.9L125.0 155.8L125.5 155.7L126.0 155.6L126.5 155.6L127.0 155.5L127.5 155.4L128.0 155.3L128.5 155.3L129.0 155.2L129.5 155.1L130.0 155.0L130.5 154.9L131.0 154.8L131.5 154.7L132.0 154.6L132.5 154.6L133.0 154.5L133.5 154.4L134.0 154.3L134.5 154.2L135.0 154.1L135.5 154.0L136.0 153.8L136.5 153.7L137.0 153.6L137.5 153.5L138.0 153.4L138.5 153.3L139.0 153.2L139.5 153.0L140.0 152.9L140.5 152.7L141.0 152.6L141.5 152.4L142.0 152.2L142.5 152.0L143.0 151.8L143.5 151.6L144.0 151.4L144.5 151.2L145.0 151.0L145.5 150.8L146.0 150.6L146.5 150.3L147.0 150.1L147.5 149.9L148.0 149.6L148.5 149.4L149.0 149.2L149.5 148.9L150.0 148.7L150.5 148.4L151.0 148.2L151.5 147.9L152.0 147.7L152.5 147.4L153.0 147.2L153.5 146.9L154.0 146.7L154.5 146.4L155.0 146.2L155.5 146.0L156.0 145.7L156.5 145.5L157.0 145.2L157.5 145.0L158.0 144.8L158.5 144.5L159.0 144.3L159.5 144.1L160.0 143.9L160.5 143.7L161.0 143.5L161.5 143.3L162.0 143.1L162.5 142.9L163.0 142.7L163.5 142.5L164.0 142.4L164.5 142.2L165.0 142.0L165.5 141.8L166.0 141.6L166.5 141.5L167.0 141.3L167.5 141.1L168.0 140.9L168.5 140.7L169.0 140.5L169.5 140.3L170.0 140.2L170.5 139.9L171.0 139.7L171.5 139.5L172.0 139.3L172.5 139.1L173.0 138.8L173.5 138.6L174.0 138.3L174.5 138.1L175.0 137.8L175.5 137.5L176.0 137.2L176.5 136.9L177.0 136.6L177.5 136.2L178.0 135.9L178.5 135.5L179.0 135.1L179.5 134.8L180.0 134.4L180.5 133.9L181.0 133.5L181.5 133.1L182.0 132.7L182.5 132.2L183.0 131.8L183.5 131.3L184.0 130.8L184.5 130.3L185.0 129.8L185.5 129.4L186.0 128.9L186.5 128.4L187.0 127.8L187.5 127.3L188.0 126.8L188.5 126.3L189.0 125.8L189.5 125.2L190.0 124.7L190.5 124.2L191.0 123.6L191.5 123.0L192.0 122.4L192.5 121.7L193.0 121.1L193.5 120.4L194.0 119.7L194.5 119.0L195.0 118.4L195.5 117.7L196.0 117.0L196.5 116.3L197.0 115.7L197.5 115.0L198.0 114.3L198.5 113.6L199.0 112.9L199.5 112.2L200.0 111.4L200.5 110.6L201.0 109.9L201.5 109.2L202.0 108.5L202.5 107.8L203.0 107.2L203.5 106.7L204.0 106.2L204.5 105.8L205.0 105.5L205.5 105.2L206.0 104.9L206.5 104.7L207.0 104.5L207.5 104.3L208.0 104.1L208.5 104.0L209.0 103.9L209.5 103.8L210.0 103.7L210.5 103.6L211.0 103.5L211.5 103.4L212.0 103.3L212.5 103.2L213.0 103.1L213.5 103.0L214.0 103.0L214.5 102.9L215.0 102.8L215.5 102.7L216.0 102.6L216.5 102.5L217.0 102.4L217.5 102.3L218.0 102.2L218.5 102.1L219.0 102.0L219.5 101.9L220.0 101.8L220.5 101.7L221.0 101.6L221.5 101.5L222.0 101.3L222.5 101.2L223.0 101.1L223.5 100.9L224.0 100.8L224.5 100.7L225.0 100.5L225.5 100.4L226.0 100.3L226.5 100.1L227.0 100.0L227.5 99.9L228.0 99.7L228.5 99.6L229.0 99.5L229.5 99.3L230.0 99.2L230.5 99.1L231.0 99.0L231.5 98.8L232.0 98.7L232.5 98.6L233.0 98.5L233.5 98.3L234.0 98.2L234.5 98.1L235.0 98.0L235.5 97.9L236.0 97.7L236.5 97.6L237.0 97.5L237.5 97.4L238.0 97.3L238.5 97.1L239.0 97.0L239.5 96.9L240.0 96.8L240.5 96.7L241.0 96.6L241.5 96.5L242.0 96.3L242.5 96.2L243.0 96.1L243.5 96.0L244.0 95.9L244.5 95.8L245.0 95.7L245.5 95.6L246.0 95.5L246.5 95.4L247.0 95.3L247.5 95.2L248.0 95.1L248.5 95.0L249.0 94.8L249.5 94.7L250.0 94.6L250.5 94.5L251.0 94.4L251.5 94.3L252.0 94.2L252.5 94.1L253.0 94.0L253.5 93.9L254.0 93.7L254.5 93.6L255.0 93.5L255.5 93.4L256.0 93.3L256.5 93.1L257.0 93.0L257.5 92.9L258.0 92.8L258.5 92.7L259.0 92.5L259.5 92.4L260.0 92.3L260.5 92.2L261.0 92.0L261.5 91.9L262.0 91.8L262.5 91.7L263.0 91.6L263.5 91.4L264.0 91.3L264.5 91.2L265.0 91.0L265.5 90.9L266.0 90.8L266.5 90.7L267.0 90.5L267.5 90.4L268.0 90.3L268.5 90.1L269.0 90.0L269.5 89.9L270.0 89.7L270.5 89.6L271.0 89.5L271.5 89.3L272.0 89.2L272.5 89.1L273.0 88.9L273.5 88.8L274.0 88.6L274.5 88.5L275.0 88.4L275.5 88.2L276.0 88.1L276.5 87.9L277.0 87.8L277.5 87.6L278.0 87.5L278.5 87.3L279.0 87.2L279.5 87.1L280.0 86.9L280.5 86.7L281.0 86.6L281.5 86.4L282.0 86.3L282.5 86.1L283.0 85.9L283.5 85.8L284.0 85.6L284.5 85.4L285.0 85.3L285.5 85.1L286.0 84.9L286.5 84.8L287.0 84.6L287.5 84.4L288.0 84.2L288.5 84.0L289.0 83.9L289.5 83.7L290.0 83.5L290.5 83.3L291.0 83.1L291.5 83.0L292.0 82.8L292.5 82.6L293.0 82.4L293.5 82.2L294.0 82.0L294.5 81.8L295.0 81.6L295.5 81.4L296.0 81.2L296.5 81.0L297.0 80.8L297.5 80.6L298.0 80.4L298.5 80.2L299.0 80.0L299.5 79.8L300.0 79.6L300.5 79.4L301.0 79.2L301.5 78.9L302.0 78.7L302.5 78.5L303.0 78.2L303.5 78.0L304.0 77.7L304.5 77.5L305.0 77.2L305.5 77.0L306.0 76.7L306.5 76.5L307.0 76.2L307.5 76.0L308.0 75.7L308.5 75.5L309.0 75.3L309.5 75.0L310.0 74.8L310.5 74.6L311.0 74.3L311.5 74.1L312.0 73.9L312.5 73.7L313.0 73.4L313.5 73.2L314.0 73.0L314.5 72.8L315.0 72.6L315.5 72.3L316.0 72.1L316.5 71.9L317.0 71.7L317.5 71.5L318.0 71.3L318.5 71.0L319.0 70.8L319.5 70.6L320.0 70.4L320.5 70.2L321.0 70.0L321.5 69.8L322.0 69.6L322.5 69.4L323.0 69.2L323.5 69.0L324.0 68.8L324.5 68.6L325.0 68.4L325.5 68.2L326.0 68.0L326.5 67.8L327.0 67.6L327.5 67.4L328.0 67.2L328.5 67.0L329.0 66.7L329.5 66.5L330.0 66.3L330.5 66.1L331.0 65.8L331.5 65.6L332.0 65.3L332.5 65.1L333.0 64.8L333.5 64.6L334.0 64.3L334.5 64.1L335.0 63.8L335.5 63.5L336.0 63.3L336.5 63.0L337.0 62.7L337.5 62.5L338.0 62.2L338.5 61.9L339.0 61.7L339.5 61.4L340.0 61.1L340.5 60.9L341.0 60.6L341.5 60.3L342.0 60.1L342.5 59.8L343.0 59.5L343.5 59.2L344.0 58.9L344.5 58.6L345.0 58.2L345.5 57.9L346.0 57.6L346.5 57.2L347.0 56.8L347.5 56.5L348.0 56.1L348.5 55.7L349.0 55.3L349.5 54.9L350.0 54.5L350.5 54.1L351.0 53.6L351.5 53.2L352.0 52.7L352.5 52.2L353.0 51.7L353.5 51.2L354.0 50.7L354.5 50.2L355.0 49.6L355.5 49.0L356.0 48.4L356.5 47.8L357.0 47.1L357.5 46.4L358.0 45.7L358.5 44.9L359.0 44.2L359.5 43.4L360.0 42.5L360.5 41.7L361.0 40.8L361.5 40.0L362.0 39.2L362.5 38.3L363.0 37.3L363.5 36.2L364.0 34.9L364.5 33.3L365.0 31.4L365.5 28.6L366.0 23.7L366.5 16.5L367.0 4.1L367.4 -3.0" fill="none" stroke="#ff0000" stroke-width="1.4" stroke-dasharray="1.1 1.5"/>
<path d="M91.0 126.5L91.5 126.5L92.0 126.5L92.5 126.5L93.0 126.5L93.5 126.4L94.0 126.4L94.5 126.4L95.0 126.4L95.5 126.4L96.0 126.3L96.5 126.3L97.0 126.3L97.5 126.3L98.0 126.2L98.5 126.2L99.0 126.2L99.5 126.2L100.0 126.1L100.5 126.1L101.0 126.1L101.5 126.0L102.0 126.0L102.5 125.9L103.0 125.9L103.5 125.9L104.0 125.8L104.5 125.8L105.0 125.7L105.5 125.7L106.0 125.7L106.5 125.6L107.0 125.6L107.5 125.5L108.0 125.5L108.5 125.4L109.0 125.4L109.5 125.3L110.0 125.3L110.5 125.2L111.0 125.2L111.5 125.2L112.0 125.1L112.5 125.1L113.0 125.0L113.5 125.0L114.0 124.9L114.5 124.9L115.0 124.8L115.5 124.7L116.0 124.7L116.5 124.6L117.0 124.6L117.5 124.5L118.0 124.5L118.5 124.4L119.0 124.3L119.5 124.3L120.0 124.2L120.5 124.1L121.0 124.0L121.5 124.0L122.0 123.9L122.5 123.8L123.0 123.7L123.5 123.6L124.0 123.6L124.5 123.5L125.0 123.4L125.5 123.3L126.0 123.2L126.5 123.1L127.0 123.0L127.5 122.9L128.0 122.8L128.5 122.7L129.0 122.6L129.5 122.5L130.0 122.4L130.5 122.3L131.0 122.2L131.5 122.1L132.0 122.0L132.5 121.9L133.0 121.8L133.5 121.7L134.0 121.6L134.5 121.5L135.0 121.4L135.5 121.3L136.0 121.1L136.5 121.0L137.0 120.9L137.5 120.8L138.0 120.7L138.5 120.6L139.0 120.5L139.5 120.4L140.0 120.2L140.5 120.1L141.0 120.0L141.5 119.9L142.0 119.7L142.5 119.6L143.0 119.5L143.5 119.4L144.0 119.2L144.5 119.1L145.0 119.0L145.5 118.8L146.0 118.7L146.5 118.5L147.0 118.4L147.5 118.3L148.0 118.1L148.5 118.0L149.0 117.8L149.5 117.7L150.0 117.5L150.5 117.4L151.0 117.2L151.5 117.0L152.0 116.9L152.5 116.7L153.0 116.5L153.5 116.4L154.0 116.2L154.5 116.0L155.0 115.9L155.5 115.7L156.0 115.5L156.5 115.3L157.0 115.1L157.5 115.0L158.0 114.8L158.5 114.6L159.0 114.4L159.5 114.2L160.0 114.0L160.5 113.8L161.0 113.6L161.5 113.4L162.0 113.2L162.5 113.0L163.0 112.7L163.5 112.5L164.0 112.3L164.5 112.0L165.0 111.8L165.5 111.5L166.0 111.3L166.5 111.0L167.0 110.8L167.5 110.5L168.0 110.2L168.5 109.9L169.0 109.7L169.5 109.4L170.0 109.1L170.5 108.8L171.0 108.5L171.5 108.2L172.0 107.9L172.5 107.6L173.0 107.3L173.5 107.0L174.0 106.6L174.5 106.3L175.0 106.0L175.5 105.7L176.0 105.3L176.5 105.0L177.0 104.6L177.5 104.2L178.0 103.8L178.5 103.4L179.0 103.0L179.5 102.6L180.0 102.2L180.5 101.7L181.0 101.3L181.5 100.9L182.0 100.4L182.5 100.0L183.0 99.5L183.5 99.1L184.0 98.7L184.5 98.2L185.0 97.8L185.5 97.4L186.0 96.9L186.5 96.5L187.0 96.1L187.5 95.6L188.0 95.2L188.5 94.8L189.0 94.3L189.5 93.9L190.0 93.4L190.5 93.0L191.0 92.5L191.5 92.1L192.0 91.6L192.5 91.2L193.0 90.7L193.5 90.2L194.0 89.8L194.5 89.3L195.0 88.8L195.5 88.3L196.0 87.8L196.5 87.3L197.0 86.8L197.5 86.3L198.0 85.7L198.5 85.2L199.0 84.7L199.5 84.1L200.0 83.6L200.5 83.1L201.0 82.5L201.5 82.0L202.0 81.5L202.5 81.0L203.0 80.4L203.5 79.9L204.0 79.4L204.5 78.9L205.0 78.4L205.5 77.9L206.0 77.5L206.5 77.1L207.0 76.7L207.5 76.3L208.0 76.0L208.5 75.8L209.0 75.7L209.5 75.7L210.0 75.6L210.5 75.5L211.0 75.5L211.5 75.5L212.0 75.4L212.5 75.4L213.0 75.4L213.5 75.3L214.0 75.3L214.5 75.3L215.0 75.2L215.5 75.1L216.0 75.1L216.5 75.0L217.0 75.0L217.5 74.9L218.0 74.8L218.5 74.8L219.0 74.7L219.5 74.6L220.0 74.6L220.5 74.5L221.0 74.4L221.5 74.3L222.0 74.3L222.5 74.2L223.0 74.1L223.5 74.0L224.0 74.0L224.5 73.9L225.0 73.8L225.5 73.7L226.0 73.6L226.5 73.6L227.0 73.5L227.5 73.4L228.0 73.3L228.5 73.2L229.0 73.1L229.5 73.1L230.0 73.0L230.5 72.9L231.0 72.8L231.5 72.7L232.0 72.6L232.5 72.5L233.0 72.4L233.5 72.3L234.0 72.2L234.5 72.2L235.0 72.1L235.5 72.0L236.0 71.9L236.5 71.8L237.0 71.7L237.5 71.6L238.0 71.5L238.5 71.4L239.0 71.3L239.5 71.2L240.0 71.1L240.5 71.0L241.0 70.9L241.5 70.8L242.0 70.7L242.5 70.6L243.0 70.5L243.5 70.4L244.0 70.3L244.5 70.2L245.0 70.1L245.5 70.0L246.0 69.9L246.5 69.8L247.0 69.7L247.5 69.6L248.0 69.4L248.5 69.3L249.0 69.2L249.5 69.1L250.0 69.0L250.5 68.9L251.0 68.8L251.5 68.7L252.0 68.6L252.5 68.5L253.0 68.3L253.5 68.2L254.0 68.1L254.5 68.0L255.0 67.9L255.5 67.8L256.0 67.7L256.5 67.6L257.0 67.4L257.5 67.3L258.0 67.2L258.5 67.1L259.0 67.0L259.5 66.8L260.0 66.7L260.5 66.6L261.0 66.5L261.5 66.4L262.0 66.2L262.5 66.1L263.0 66.0L263.5 65.9L264.0 65.8L264.5 65.6L265.0 65.5L265.5 65.4L266.0 65.3L266.5 65.1L267.0 65.0L267.5 64.9L268.0 64.8L268.5 64.7L269.0 64.5L269.5 64.4L270.0 64.3L270.5 64.2L271.0 64.1L271.5 63.9L272.0 63.8L272.5 63.7L273.0 63.6L273.5 63.5L274.0 63.4L274.5 63.3L275.0 63.2L275.5 63.0L276.0 62.9L276.5 62.8L277.0 62.7L277.5 62.6L278.0 62.5L278.5 62.4L279.0 62.3L279.5 62.2L280.0 62.1L280.5 61.9L281.0 61.8L281.5 61.7L282.0 61.6L282.5 61.5L283.0 61.4L283.5 61.3L284.0 61.1L284.5 61.0L285.0 60.9L285.5 60.8L286.0 60.7L286.5 60.5L287.0 60.4L287.5 60.3L288.0 60.1L288.5 60.0L289.0 59.9L289.5 59.7L290.0 59.6L290.5 59.5L291.0 59.3L291.5 59.2L292.0 59.0L292.5 58.9L293.0 58.7L293.5 58.6L294.0 58.4L294.5 58.2L295.0 58.1L295.5 57.9L296.0 57.7L296.5 57.6L297.0 57.4L297.5 57.2L298.0 57.0L298.5 56.9L299.0 56.7L299.5 56.5L300.0 56.3L300.5 56.2L301.0 56.0L301.5 55.8L302.0 55.6L302.5 55.4L303.0 55.2L303.5 55.1L304.0 54.9L304.5 54.7L305.0 54.5L305.5 54.3L306.0 54.1L306.5 53.9L307.0 53.7L307.5 53.6L308.0 53.4L308.5 53.2L309.0 53.0L309.5 52.8L310.0 52.6L310.5 52.4L311.0 52.2L311.5 52.0L312.0 51.8L312.5 51.6L313.0 51.4L313.5 51.2L314.0 51.0L314.5 50.7L315.0 50.5L315.5 50.3L316.0 50.1L316.5 49.9L317.0 49.7L317.5 49.5L318.0 49.3L318.5 49.0L319.0 48.8L319.5 48.6L320.0 48.4L320.5 48.2L321.0 48.0L321.5 47.7L322.0 47.5L322.5 47.3L323.0 47.1L323.5 46.9L324.0 46.6L324.5 46.4L325.0 46.2L325.5 46.0L326.0 45.7L326.5 45.5L327.0 45.3L327.5 45.0L328.0 44.8L328.5 44.5L329.0 44.3L329.5 44.1L330.0 43.8L330.5 43.5L331.0 43.3L331.5 43.0L332.0 42.8L332.5 42.5L333.0 42.3L333.5 42.0L334.0 41.7L334.5 41.5L335.0 41.2L335.5 40.9L336.0 40.7L336.5 40.4L337.0 40.1L337.5 39.8L338.0 39.5L338.5 39.2L339.0 38.9L339.5 38.5L340.0 38.2L340.5 37.9L341.0 37.5L341.5 37.1L342.0 36.7L342.5 36.3L343.0 35.8L343.5 35.4L344.0 35.0L344.5 34.5L345.0 34.1L345.5 33.7L346.0 33.3L346.5 32.9L347.0 32.5L347.5 32.2L348.0 31.8L348.5 31.6L349.0 31.3L349.5 31.0L350.0 30.6L350.5 30.3L351.0 29.8L351.5 29.3L352.0 28.7L352.5 28.1L353.0 27.4L353.5 26.6L354.0 25.9L354.5 25.2L355.0 24.5L355.5 23.8L356.0 23.2L356.5 22.6L357.0 22.0L357.5 21.2L358.0 20.4L358.5 19.3L359.0 18.0L359.5 16.4L360.0 14.7L360.5 13.0L361.0 11.4L361.5 10.1L362.0 9.0L362.5 7.9L363.0 6.6L363.5 5.0L364.0 2.9L364.5 -1.1L364.6 -2.0" fill="none" stroke="#ff0000" stroke-width="1.4" stroke-dasharray="1.1 1.5"/>
<path d="M91.0 59.7L91.5 59.7L92.0 59.7L92.5 59.7L93.0 59.6L93.5 59.6L94.0 59.6L94.5 59.6L95.0 59.6L95.5 59.5L96.0 59.5L96.5 59.5L97.0 59.4L97.5 59.4L98.0 59.4L98.5 59.4L99.0 59.3L99.5 59.3L100.0 59.2L100.5 59.2L101.0 59.2L101.5 59.1L102.0 59.1L102.5 59.1L103.0 59.0L103.5 59.0L104.0 58.9L104.5 58.9L105.0 58.8L105.5 58.8L106.0 58.7L106.5 58.7L107.0 58.6L107.5 58.6L108.0 58.5L108.5 58.5L109.0 58.4L109.5 58.4L110.0 58.3L110.5 58.3L111.0 58.2L111.5 58.2L112.0 58.1L112.5 58.1L113.0 58.0L113.5 58.0L114.0 57.9L114.5 57.9L115.0 57.8L115.5 57.7L116.0 57.7L116.5 57.6L117.0 57.6L117.5 57.5L118.0 57.4L118.5 57.4L119.0 57.3L119.5 57.2L120.0 57.1L120.5 57.1L121.0 57.0L121.5 56.9L122.0 56.8L122.5 56.7L123.0 56.6L123.5 56.6L124.0 56.5L124.5 56.4L125.0 56.3L125.5 56.2L126.0 56.1L126.5 56.0L127.0 55.9L127.5 55.8L128.0 55.7L128.5 55.6L129.0 55.5L129.5 55.4L130.0 55.3L130.5 55.2L131.0 55.1L131.5 55.0L132.0 54.9L132.5 54.8L133.0 54.6L133.5 54.5L134.0 54.4L134.5 54.3L135.0 54.2L135.5 54.1L136.0 54.0L136.5 53.9L137.0 53.7L137.5 53.6L138.0 53.5L138.5 53.4L139.0 53.3L139.5 53.1L140.0 53.0L140.5 52.9L141.0 52.7L141.5 52.6L142.0 52.5L142.5 52.3L143.0 52.2L143.5 52.0L144.0 51.9L144.5 51.8L145.0 51.6L145.5 51.5L146.0 51.3L146.5 51.1L147.0 51.0L147.5 50.8L148.0 50.7L148.5 50.5L149.0 50.3L149.5 50.2L150.0 50.0L150.5 49.8L151.0 49.7L151.5 49.5L152.0 49.3L152.5 49.2L153.0 49.0L153.5 48.8L154.0 48.6L154.5 48.5L155.0 48.3L155.5 48.1L156.0 47.9L156.5 47.8L157.0 47.6L157.5 47.4L158.0 47.2L158.5 47.0L159.0 46.9L159.5 46.7L160.0 46.5L160.5 46.3L161.0 46.1L161.5 46.0L162.0 45.8L162.5 45.6L163.0 45.4L163.5 45.2L164.0 45.0L164.5 44.9L165.0 44.7L165.5 44.5L166.0 44.3L166.5 44.1L167.0 43.9L167.5 43.7L168.0 43.5L168.5 43.3L169.0 43.1L169.5 42.9L170.0 42.7L170.5 42.5L171.0 42.3L171.5 42.0L172.0 41.8L172.5 41.6L173.0 41.4L173.5 41.1L174.0 40.9L174.5 40.6L175.0 40.4L175.5 40.1L176.0 39.9L176.5 39.6L177.0 39.3L177.5 39.1L178.0 38.8L178.5 38.5L179.0 38.2L179.5 37.9L180.0 37.6L180.5 37.2L181.0 36.9L181.5 36.6L182.0 36.2L182.5 35.9L183.0 35.6L183.5 35.2L184.0 34.8L184.5 34.5L185.0 34.1L185.5 33.7L186.0 33.3L186.5 32.9L187.0 32.5L187.5 32.1L188.0 31.6L188.5 31.2L189.0 30.7L189.5 30.3L190.0 29.8L190.5 29.3L191.0 28.8L191.5 28.4L192.0 27.9L192.5 27.4L193.0 26.9L193.5 26.4L194.0 25.9L194.5 25.4L195.0 24.9L195.5 24.4L196.0 23.9L196.5 23.3L197.0 22.8L197.5 22.2L198.0 21.6L198.5 21.1L199.0 20.5L199.5 19.9L200.0 19.4L200.5 18.8L201.0 18.3L201.5 17.8L202.0 17.4L202.5 16.9L203.0 16.5L203.5 16.1L204.0 15.7L204.5 15.3L205.0 14.9L205.5 14.6L206.0 14.4L206.5 14.2L207.0 14.1L207.5 14.0L208.0 13.9L208.5 13.8L209.0 13.7L209.5 13.6L210.0 13.5L210.5 13.5L211.0 13.4L211.5 13.3L212.0 13.3L212.5 13.2L213.0 13.2L213.5 13.1L214.0 13.0L214.5 13.0L215.0 12.9L215.5 12.8L216.0 12.7L216.5 12.7L217.0 12.6L217.5 12.5L218.0 12.4L218.5 12.3L219.0 12.3L219.5 12.2L220.0 12.1L220.5 12.0L221.0 11.9L221.5 11.8L222.0 11.8L222.5 11.7L223.0 11.6L223.5 11.5L224.0 11.4L224.5 11.3L225.0 11.3L225.5 11.2L226.0 11.1L226.5 11.0L227.0 10.9L227.5 10.8L228.0 10.7L228.5 10.7L229.0 10.6L229.5 10.5L230.0 10.4L230.5 10.3L231.0 10.2L231.5 10.1L232.0 10.1L232.5 10.0L233.0 9.9L233.5 9.8L234.0 9.7L234.5 9.6L235.0 9.6L235.5 9.5L236.0 9.4L236.5 9.3L237.0 9.2L237.5 9.1L238.0 9.1L238.5 9.0L239.0 8.9L239.5 8.8L240.0 8.7L240.5 8.7L241.0 8.6L241.5 8.5L242.0 8.4L242.5 8.3L243.0 8.2L243.5 8.1L244.0 8.1L244.5 8.0L245.0 7.9L245.5 7.8L246.0 7.7L246.5 7.6L247.0 7.5L247.5 7.4L248.0 7.4L248.5 7.3L249.0 7.2L249.5 7.1L250.0 7.0L250.5 6.9L251.0 6.8L251.5 6.7L252.0 6.6L252.5 6.5L253.0 6.4L253.5 6.3L254.0 6.2L254.5 6.1L255.0 6.0L255.5 5.9L256.0 5.8L256.5 5.7L257.0 5.6L257.5 5.5L258.0 5.3L258.5 5.2L259.0 5.1L259.5 5.0L260.0 4.9L260.5 4.8L261.0 4.6L261.5 4.5L262.0 4.4L262.5 4.3L263.0 4.1L263.5 4.0L264.0 3.9L264.5 3.8L265.0 3.6L265.5 3.5L266.0 3.4L266.5 3.3L267.0 3.1L267.5 3.0L268.0 2.9L268.5 2.7L269.0 2.6L269.5 2.5L270.0 2.3L270.5 2.2L271.0 2.0L271.5 1.9L272.0 1.8L272.5 1.6L273.0 1.5L273.5 1.3L274.0 1.2L274.5 1.0L275.0 0.9L275.5 0.7L276.0 0.6L276.5 0.4L277.0 0.3L277.5 0.1L278.0 0.0L278.5 -0.1L279.0 -0.3L279.5 -0.4L280.0 -0.6L280.5 -0.7L281.0 -0.9L281.5 -1.0L282.0 -1.1L282.5 -1.3L283.0 -1.4L283.5 -1.6L284.0 -1.7L284.5 -1.9L285.0 -2.0" fill="none" stroke="#ff0000" stroke-width="1.7" stroke-dasharray="4.5 0.9 1.5 0.9 1.5 0.9"/>
<path d="M91.0 172.6L91.5 172.6L92.0 172.5L92.5 172.5L93.0 172.4L93.5 172.4L94.0 172.4L94.5 172.3L95.0 172.3L95.5 172.2L96.0 172.2L96.5 172.1L97.0 172.1L97.5 172.1L98.0 172.0L98.5 172.0L99.0 171.9L99.5 171.9L100.0 171.8L100.5 171.8L101.0 171.7L101.5 171.7L102.0 171.6L102.5 171.6L103.0 171.5L103.5 171.5L104.0 171.4L104.5 171.4L105.0 171.3L105.5 171.3L106.0 171.2L106.5 171.2L107.0 171.1L107.5 171.1L108.0 171.0L108.5 170.9L109.0 170.9L109.5 170.8L110.0 170.8L110.5 170.7L111.0 170.7L111.5 170.6L112.0 170.6L112.5 170.5L113.0 170.4L113.5 170.4L114.0 170.3L114.5 170.3L115.0 170.2L115.5 170.1L116.0 170.1L116.5 170.0L117.0 170.0L117.5 169.9L118.0 169.8L118.5 169.8L119.0 169.7L119.5 169.7L120.0 169.6L120.5 169.5L121.0 169.5L121.5 169.4L122.0 169.3L122.5 169.3L123.0 169.2L123.5 169.2L124.0 169.1L124.5 169.0L125.0 169.0L125.5 168.9L126.0 168.8L126.5 168.8L127.0 168.7L127.5 168.6L128.0 168.5L128.5 168.5L129.0 168.4L129.5 168.3L130.0 168.2L130.5 168.2L131.0 168.1L131.5 168.0L132.0 167.9L132.5 167.8L133.0 167.7L133.5 167.7L134.0 167.6L134.5 167.5L135.0 167.4L135.5 167.3L136.0 167.2L136.5 167.1L137.0 167.0L137.5 166.9L138.0 166.8L138.5 166.7L139.0 166.6L139.5 166.5L140.0 166.3L140.5 166.2L141.0 166.1L141.5 166.0L142.0 165.8L142.5 165.7L143.0 165.5L143.5 165.4L144.0 165.2L144.5 165.1L145.0 164.9L145.5 164.8L146.0 164.6L146.5 164.4L147.0 164.3L147.5 164.1L148.0 163.9L148.5 163.7L149.0 163.6L149.5 163.4L150.0 163.2L150.5 163.0L151.0 162.8L151.5 162.6L152.0 162.4L152.5 162.2L153.0 162.0L153.5 161.8L154.0 161.7L154.5 161.5L155.0 161.2L155.5 161.0L156.0 160.8L156.5 160.6L157.0 160.4L157.5 160.2L158.0 160.0L158.5 159.8L159.0 159.6L159.5 159.4L160.0 159.2L160.5 159.0L161.0 158.8L161.5 158.6L162.0 158.3L162.5 158.1L163.0 157.9L163.5 157.7L164.0 157.4L164.5 157.2L165.0 156.9L165.5 156.7L166.0 156.4L166.5 156.2L167.0 155.9L167.5 155.6L168.0 155.3L168.5 155.0L169.0 154.7L169.5 154.4L170.0 154.1L170.5 153.8L171.0 153.4L171.5 153.1L172.0 152.7L172.5 152.4L173.0 152.0L173.5 151.7L174.0 151.3L174.5 150.9L175.0 150.5L175.5 150.1L176.0 149.6L176.5 149.2L177.0 148.7L177.5 148.2L178.0 147.8L178.5 147.3L179.0 146.9L179.5 146.5L180.0 146.1L180.5 145.8L181.0 145.4L181.5 145.1L182.0 144.8L182.5 144.5L183.0 144.1L183.5 143.8L184.0 143.4L184.5 143.1L185.0 142.7L185.5 142.3L186.0 141.9L186.5 141.5L187.0 141.0L187.5 140.6L188.0 140.1L188.5 139.6L189.0 139.2L189.5 138.7L190.0 138.2L190.5 137.7L191.0 137.2L191.5 136.7L192.0 136.1L192.5 135.6L193.0 135.1L193.5 134.5L194.0 133.9L194.5 133.4L195.0 132.8L195.5 132.2L196.0 131.6L196.5 131.1L197.0 130.5L197.5 129.9L198.0 129.3L198.5 128.7L199.0 128.1L199.5 127.5L200.0 126.9L200.5 126.3L201.0 125.7L201.5 125.1L202.0 124.5L202.5 124.0L203.0 123.5L203.5 123.0L204.0 122.5L204.5 122.1L205.0 121.6L205.5 121.2L206.0 120.8L206.5 120.5L207.0 120.2L207.5 119.9L208.0 119.7L208.5 119.5L209.0 119.3L209.5 119.1L210.0 118.9L210.5 118.8L211.0 118.6L211.5 118.5L212.0 118.3L212.5 118.1L213.0 118.0L213.5 117.8L214.0 117.7L214.5 117.5L215.0 117.4L215.5 117.2L216.0 117.1L216.5 117.0L217.0 116.8L217.5 116.7L218.0 116.5L218.5 116.4L219.0 116.3L219.5 116.1L220.0 116.0L220.5 115.9L221.0 115.7L221.5 115.6L222.0 115.5L222.5 115.3L223.0 115.2L223.5 115.1L224.0 114.9L224.5 114.8L225.0 114.7L225.5 114.5L226.0 114.4L226.5 114.3L227.0 114.1L227.5 114.0L228.0 113.9L228.5 113.8L229.0 113.6L229.5 113.5L230.0 113.4L230.5 113.3L231.0 113.1L231.5 113.0L232.0 112.9L232.5 112.8L233.0 112.6L233.5 112.5L234.0 112.4L234.5 112.3L235.0 112.1L235.5 112.0L236.0 111.9L236.5 111.8L237.0 111.7L237.5 111.6L238.0 111.4L238.5 111.3L239.0 111.2L239.5 111.1L240.0 111.0L240.5 110.9L241.0 110.8L241.5 110.7L242.0 110.6L242.5 110.5L243.0 110.4L243.5 110.3L244.0 110.2L244.5 110.1L245.0 110.0L245.5 109.9L246.0 109.8L246.5 109.7L247.0 109.6L247.5 109.5L248.0 109.4L248.5 109.3L249.0 109.2L249.5 109.1L250.0 109.0L250.5 108.9L251.0 108.8L251.5 108.7L252.0 108.6L252.5 108.5L253.0 108.4L253.5 108.3L254.0 108.2L254.5 108.1L255.0 108.0L255.5 107.9L256.0 107.8L256.5 107.7L257.0 107.6L257.5 107.4L258.0 107.3L258.5 107.2L259.0 107.1L259.5 107.0L260.0 106.9L260.5 106.8L261.0 106.6L261.5 106.5L262.0 106.4L262.5 106.3L263.0 106.2L263.5 106.1L264.0 105.9L264.5 105.8L265.0 105.7L265.5 105.6L266.0 105.5L266.5 105.3L267.0 105.2L267.5 105.1L268.0 105.0L268.5 104.8L269.0 104.7L269.5 104.6L270.0 104.4L270.5 104.3L271.0 104.2L271.5 104.1L272.0 103.9L272.5 103.8L273.0 103.7L273.5 103.5L274.0 103.4L274.5 103.3L275.0 103.1L275.5 103.0L276.0 102.8L276.5 102.7L277.0 102.6L277.5 102.4L278.0 102.3L278.5 102.1L279.0 102.0L279.5 101.8L280.0 101.7L280.5 101.6L281.0 101.4L281.5 101.2L282.0 101.1L282.5 100.9L283.0 100.8L283.5 100.6L284.0 100.5L284.5 100.3L285.0 100.1L285.5 100.0L286.0 99.8L286.5 99.6L287.0 99.5L287.5 99.3L288.0 99.1L288.5 99.0L289.0 98.8L289.5 98.6L290.0 98.4L290.5 98.2L291.0 98.1L291.5 97.9L292.0 97.7L292.5 97.5L293.0 97.3L293.5 97.2L294.0 97.0L294.5 96.8L295.0 96.6L295.5 96.4L296.0 96.2L296.5 96.0L297.0 95.8L297.5 95.7L298.0 95.5L298.5 95.3L299.0 95.1L299.5 94.9L300.0 94.7L300.5 94.5L301.0 94.3L301.5 94.1L302.0 93.9L302.5 93.7L303.0 93.5L303.5 93.3L304.0 93.1L304.5 92.9L305.0 92.7L305.5 92.4L306.0 92.2L306.5 92.0L307.0 91.8L307.5 91.6L308.0 91.4L308.5 91.2L309.0 90.9L309.5 90.7L310.0 90.5L310.5 90.3L311.0 90.1L311.5 89.8L312.0 89.6L312.5 89.4L313.0 89.2L313.5 89.0L314.0 88.8L314.5 88.5L315.0 88.3L315.5 88.1L316.0 87.9L316.5 87.6L317.0 87.4L317.5 87.2L318.0 86.9L318.5 86.7L319.0 86.5L319.5 86.2L320.0 86.0L320.5 85.8L321.0 85.5L321.5 85.3L322.0 85.0L322.5 84.8L323.0 84.5L323.5 84.3L324.0 84.0L324.5 83.7L325.0 83.5L325.5 83.2L326.0 83.0L326.5 82.7L327.0 82.4L327.5 82.2L328.0 81.9L328.5 81.6L329.0 81.4L329.5 81.1L330.0 80.8L330.5 80.5L331.0 80.3L331.5 80.0L332.0 79.7L332.5 79.4L333.0 79.1L333.5 78.8L334.0 78.6L334.5 78.3L335.0 78.0L335.5 77.7L336.0 77.4L336.5 77.1L337.0 76.8L337.5 76.5L338.0 76.2L338.5 76.0L339.0 75.7L339.5 75.3L340.0 75.0L340.5 74.7L341.0 74.4L341.5 74.1L342.0 73.8L342.5 73.5L343.0 73.2L343.5 72.8L344.0 72.5L344.5 72.2L345.0 71.8L345.5 71.5L346.0 71.2L346.5 70.8L347.0 70.4L347.5 70.1L348.0 69.7L348.5 69.2L349.0 68.8L349.5 68.3L350.0 67.9L350.5 67.4L351.0 66.8L351.5 66.3L352.0 65.8L352.5 65.2L353.0 64.7L353.5 64.1L354.0 63.6L354.5 63.0L355.0 62.5L355.5 62.0L356.0 61.4L356.5 60.9L357.0 60.4L357.5 59.9L358.0 59.4L358.5 58.8L359.0 58.2L359.5 57.6L360.0 56.9L360.5 56.2L361.0 55.5L361.5 54.7L362.0 53.8L362.5 52.7L363.0 51.5L363.5 49.9L364.0 47.9L364.5 45.6L365.0 43.0L365.5 40.3L366.0 36.9L366.5 32.3L367.0 24.0L367.5 8.7L367.8 -3.0" fill="none" stroke="#0000ff" stroke-width="2"/>
<path d="M91.0 201.8L91.5 201.8L92.0 201.7L92.5 201.7L93.0 201.6L93.5 201.6L94.0 201.5L94.5 201.4L95.0 201.4L95.5 201.3L96.0 201.3L96.5 201.2L97.0 201.2L97.5 201.1L98.0 201.1L98.5 201.0L99.0 201.0L99.5 200.9L100.0 200.8L100.5 200.8L101.0 200.7L101.5 200.7L102.0 200.6L102.5 200.5L103.0 200.5L103.5 200.4L104.0 200.4L104.5 200.3L105.0 200.2L105.5 200.2L106.0 200.1L106.5 200.0L107.0 200.0L107.5 199.9L108.0 199.9L108.5 199.8L109.0 199.7L109.5 199.7L110.0 199.6L110.5 199.5L111.0 199.5L111.5 199.4L112.0 199.3L112.5 199.2L113.0 199.2L113.5 199.1L114.0 199.0L114.5 199.0L115.0 198.9L115.5 198.8L116.0 198.8L116.5 198.7L117.0 198.6L117.5 198.5L118.0 198.5L118.5 198.4L119.0 198.3L119.5 198.2L120.0 198.2L120.5 198.1L121.0 198.0L121.5 197.9L122.0 197.9L122.5 197.8L123.0 197.7L123.5 197.6L124.0 197.5L124.5 197.5L125.0 197.4L125.5 197.3L126.0 197.2L126.5 197.1L127.0 197.1L127.5 197.0L128.0 196.9L128.5 196.8L129.0 196.7L129.5 196.6L130.0 196.5L130.5 196.4L131.0 196.4L131.5 196.3L132.0 196.2L132.5 196.1L133.0 196.0L133.5 195.9L134.0 195.8L134.5 195.7L135.0 195.6L135.5 195.5L136.0 195.4L136.5 195.3L137.0 195.2L137.5 195.1L138.0 195.0L138.5 194.9L139.0 194.8L139.5 194.7L140.0 194.6L140.5 194.5L141.0 194.3L141.5 194.2L142.0 194.1L142.5 194.0L143.0 193.9L143.5 193.7L144.0 193.6L144.5 193.5L145.0 193.3L145.5 193.2L146.0 193.1L146.5 192.9L147.0 192.8L147.5 192.6L148.0 192.5L148.5 192.3L149.0 192.2L149.5 192.0L150.0 191.9L150.5 191.7L151.0 191.5L151.5 191.4L152.0 191.2L152.5 191.0L153.0 190.8L153.5 190.6L154.0 190.4L154.5 190.2L155.0 190.0L155.5 189.8L156.0 189.6L156.5 189.4L157.0 189.2L157.5 189.0L158.0 188.8L158.5 188.6L159.0 188.4L159.5 188.2L160.0 188.0L160.5 187.8L161.0 187.6L161.5 187.4L162.0 187.2L162.5 187.0L163.0 186.7L163.5 186.5L164.0 186.3L164.5 186.1L165.0 185.8L165.5 185.6L166.0 185.4L166.5 185.1L167.0 184.9L167.5 184.6L168.0 184.3L168.5 184.1L169.0 183.8L169.5 183.5L170.0 183.2L170.5 182.9L171.0 182.5L171.5 182.2L172.0 181.9L172.5 181.5L173.0 181.2L173.5 180.9L174.0 180.5L174.5 180.2L175.0 179.8L175.5 179.4L176.0 179.1L176.5 178.7L177.0 178.3L177.5 177.9L178.0 177.5L178.5 177.1L179.0 176.7L179.5 176.3L180.0 175.8L180.5 175.4L181.0 174.9L181.5 174.4L182.0 174.0L182.5 173.5L183.0 173.0L183.5 172.5L184.0 172.0L184.5 171.5L185.0 171.0L185.5 170.5L186.0 170.0L186.5 169.5L187.0 168.9L187.5 168.4L188.0 167.9L188.5 167.3L189.0 166.8L189.5 166.3L190.0 165.7L190.5 165.2L191.0 164.7L191.5 164.1L192.0 163.6L192.5 163.0L193.0 162.5L193.5 161.9L194.0 161.4L194.5 160.9L195.0 160.3L195.5 159.7L196.0 159.2L196.5 158.6L197.0 158.0L197.5 157.4L198.0 156.8L198.5 156.3L199.0 155.7L199.5 155.1L200.0 154.5L200.5 154.0L201.0 153.5L201.5 153.0L202.0 152.5L202.5 152.0L203.0 151.6L203.5 151.1L204.0 150.7L204.5 150.3L205.0 150.0L205.5 149.7L206.0 149.5L206.5 149.3L207.0 149.1L207.5 149.0L208.0 148.8L208.5 148.7L209.0 148.5L209.5 148.4L210.0 148.3L210.5 148.2L211.0 148.1L211.5 148.0L212.0 147.9L212.5 147.8L213.0 147.7L213.5 147.6L214.0 147.4L214.5 147.3L215.0 147.2L215.5 147.1L216.0 146.9L216.5 146.8L217.0 146.7L217.5 146.5L218.0 146.4L218.5 146.2L219.0 146.1L219.5 145.9L220.0 145.7L220.5 145.6L221.0 145.4L221.5 145.3L222.0 145.1L222.5 144.9L223.0 144.8L223.5 144.6L224.0 144.4L224.5 144.3L225.0 144.1L225.5 143.9L226.0 143.8L226.5 143.6L227.0 143.5L227.5 143.3L228.0 143.1L228.5 143.0L229.0 142.8L229.5 142.7L230.0 142.5L230.5 142.4L231.0 142.3L231.5 142.1L232.0 142.0L232.5 141.9L233.0 141.8L233.5 141.6L234.0 141.5L234.5 141.4L235.0 141.3L235.5 141.2L236.0 141.1L236.5 141.0L237.0 140.8L237.5 140.7L238.0 140.6L238.5 140.5L239.0 140.4L239.5 140.3L240.0 140.2L240.5 140.1L241.0 140.0L241.5 139.9L242.0 139.8L242.5 139.7L243.0 139.6L243.5 139.5L244.0 139.4L244.5 139.2L245.0 139.1L245.5 139.0L246.0 138.9L246.5 138.8L247.0 138.7L247.5 138.6L248.0 138.5L248.5 138.4L249.0 138.3L249.5 138.2L250.0 138.1L250.5 138.0L251.0 137.9L251.5 137.8L252.0 137.7L252.5 137.6L253.0 137.5L253.5 137.4L254.0 137.3L254.5 137.2L255.0 137.1L255.5 137.0L256.0 136.9L256.5 136.7L257.0 136.6L257.5 136.5L258.0 136.4L258.5 136.3L259.0 136.2L259.5 136.0L260.0 135.9L260.5 135.8L261.0 135.7L261.5 135.5L262.0 135.4L262.5 135.3L263.0 135.2L263.5 135.0L264.0 134.9L264.5 134.8L265.0 134.6L265.5 134.5L266.0 134.4L266.5 134.2L267.0 134.1L267.5 134.0L268.0 133.8L268.5 133.7L269.0 133.6L269.5 133.4L270.0 133.3L270.5 133.2L271.0 133.0L271.5 132.9L272.0 132.7L272.5 132.6L273.0 132.5L273.5 132.3L274.0 132.2L274.5 132.0L275.0 131.9L275.5 131.7L276.0 131.6L276.5 131.4L277.0 131.3L277.5 131.2L278.0 131.0L278.5 130.9L279.0 130.7L279.5 130.6L280.0 130.4L280.5 130.2L281.0 130.1L281.5 129.9L282.0 129.8L282.5 129.6L283.0 129.5L283.5 129.3L284.0 129.2L284.5 129.0L285.0 128.9L285.5 128.7L286.0 128.6L286.5 128.4L287.0 128.3L287.5 128.1L288.0 127.9L288.5 127.8L289.0 127.6L289.5 127.5L290.0 127.3L290.5 127.1L291.0 127.0L291.5 126.8L292.0 126.7L292.5 126.5L293.0 126.3L293.5 126.2L294.0 126.0L294.5 125.9L295.0 125.7L295.5 125.5L296.0 125.4L296.5 125.2L297.0 125.0L297.5 124.9L298.0 124.7L298.5 124.5L299.0 124.3L299.5 124.2L300.0 124.0L300.5 123.8L301.0 123.7L301.5 123.5L302.0 123.3L302.5 123.1L303.0 122.9L303.5 122.8L304.0 122.6L304.5 122.4L305.0 122.2L305.5 122.0L306.0 121.8L306.5 121.7L307.0 121.5L307.5 121.3L308.0 121.1L308.5 120.9L309.0 120.7L309.5 120.5L310.0 120.3L310.5 120.1L311.0 119.9L311.5 119.7L312.0 119.5L312.5 119.3L313.0 119.1L313.5 118.9L314.0 118.7L314.5 118.5L315.0 118.3L315.5 118.0L316.0 117.8L316.5 117.6L317.0 117.4L317.5 117.2L318.0 116.9L318.5 116.7L319.0 116.5L319.5 116.2L320.0 116.0L320.5 115.8L321.0 115.5L321.5 115.3L322.0 115.0L322.5 114.8L323.0 114.5L323.5 114.2L324.0 114.0L324.5 113.7L325.0 113.4L325.5 113.1L326.0 112.9L326.5 112.6L327.0 112.3L327.5 112.0L328.0 111.7L328.5 111.4L329.0 111.2L329.5 110.9L330.0 110.6L330.5 110.3L331.0 110.0L331.5 109.6L332.0 109.3L332.5 109.0L333.0 108.7L333.5 108.4L334.0 108.1L334.5 107.7L335.0 107.4L335.5 107.1L336.0 106.7L336.5 106.4L337.0 106.0L337.5 105.7L338.0 105.3L338.5 105.0L339.0 104.6L339.5 104.3L340.0 103.9L340.5 103.5L341.0 103.2L341.5 102.8L342.0 102.4L342.5 102.0L343.0 101.7L343.5 101.3L344.0 100.9L344.5 100.5L345.0 100.1L345.5 99.8L346.0 99.4L346.5 99.0L347.0 98.6L347.5 98.2L348.0 97.8L348.5 97.4L349.0 96.9L349.5 96.5L350.0 96.0L350.5 95.5L351.0 95.0L351.5 94.4L352.0 93.8L352.5 93.2L353.0 92.6L353.5 91.9L354.0 91.3L354.5 90.7L355.0 90.1L355.5 89.5L356.0 88.9L356.5 88.4L357.0 87.9L357.5 87.4L358.0 86.9L358.5 86.3L359.0 85.8L359.5 85.2L360.0 84.5L360.5 83.8L361.0 83.1L361.5 82.4L362.0 81.6L362.5 80.7L363.0 79.8L363.5 78.7L364.0 77.5L364.5 76.3L365.0 74.8L365.5 72.8L366.0 70.0L366.5 63.3L367.0 54.9L367.5 45.0L368.0 17.3L368.2 -3.0" fill="none" stroke="#0000ff" stroke-width="2"/>
<path d="M323,191.6 L355.5,191.6" fill="none" stroke="#ff0000" stroke-width="1.5" stroke-dasharray="4 1.5 1.2 1.5 1.2 1.5"/>
<path d="M323,216 L355.5,216" fill="none" stroke="#0000ff" stroke-width="2"/>
<text transform="translate(65.2,31.5) scale(1,1.1)" font-size="18.4" text-anchor="end" >1000</text>
<text transform="translate(65.2,87.5) scale(1,1.1)" font-size="18.4" text-anchor="end" >100</text>
<text transform="translate(65.2,143.7) scale(1,1.1)" font-size="18.4" text-anchor="end" >10</text>
<text transform="translate(65.2,200.0) scale(1,1.1)" font-size="18.4" text-anchor="end" >1</text>
<text transform="translate(71.5,242.5) scale(1,1.1)" font-size="18.4" text-anchor="middle" >0.001</text>
<text transform="translate(125.0,242.5) scale(1,1.1)" font-size="18.4" text-anchor="middle" >0.01</text>
<text transform="translate(178.5,242.5) scale(1,1.1)" font-size="18.4" text-anchor="middle" >0.1</text>
<text transform="translate(232.0,242.5) scale(1,1.1)" font-size="18.4" text-anchor="middle" >1</text>
<text transform="translate(285.5,242.5) scale(1,1.1)" font-size="18.4" text-anchor="middle" >10</text>
<text transform="translate(339.0,242.5) scale(1,1.1)" font-size="18.4" text-anchor="middle" >100</text>
<text transform="translate(13.1,208.7) rotate(-90) scale(1,1.02)" font-size="18.45" text-anchor="start" stroke-width="0.6">orientation error [arcmin]</text>
<text transform="translate(190.5,259.3) scale(1,1.05)" font-size="18.4" text-anchor="start" ><tspan font-style="italic">t</tspan><tspan font-size="13" dy="3">f</tspan></text>
<text transform="translate(213.3,258.3) scale(1,1.05)" font-size="18.4" text-anchor="start" >[day]</text>
<text transform="translate(96.3,197.6) scale(1,0.92)" font-size="19" text-anchor="start" ><tspan font-style="italic">m</tspan><tspan font-size="13" dy="3">1</tspan><tspan dy="-3"> =</tspan></text>
<text transform="translate(159.3,197.6) scale(1,0.92)" font-size="19" text-anchor="start" ><tspan font-style="italic">m</tspan><tspan font-size="13" dy="3">2</tspan><tspan dy="-3"> =</tspan></text>
<text transform="translate(200.0,197.6) scale(1,0.92)" font-size="19" text-anchor="start" >10</text>
<text transform="translate(217.3,190.6) scale(1,0.92)" font-size="12.5" text-anchor="start" >5</text>
<text transform="translate(223.9,197.6) scale(1,0.92)" font-size="19" text-anchor="start" >M</text>
<circle cx="246.6" cy="197.6" r="3.9" fill="none" stroke="#3a3637" stroke-width="0.9"/><circle cx="246.6" cy="197.6" r="1" fill="#3a3637"/>
<text transform="translate(156.3,217.4) scale(1,0.92)" font-size="19" text-anchor="start" ><tspan font-style="italic">z</tspan> = 1</text>
<text transform="translate(285.7,195.0) scale(1,1.15)" font-size="14.8" text-anchor="start" >2<tspan font-style="italic">a</tspan></text>
<text transform="translate(300.8,198.0)" font-size="11.3" text-anchor="start" >NL</text>
<text transform="translate(287.2,206.2) scale(1,1.15)" font-size="14.8" text-anchor="start" >2<tspan font-style="italic">r</tspan></text>
<text transform="translate(300.8,209.2)" font-size="11.3" text-anchor="start" >NL</text>
<text transform="translate(285.7,218.7) scale(1,1.15)" font-size="14.8" text-anchor="start" >2<tspan font-style="italic">b</tspan></text>
<text transform="translate(300.8,221.7)" font-size="11.3" text-anchor="start" >NL</text>
<text transform="translate(97.1,56.8) rotate(-18.7) scale(1,1.1)" font-size="15.2" text-anchor="start" word-spacing="0.6" stroke-width="0.45">worst – major axis</text>
<text transform="translate(204.5,93.0) rotate(-12.3) scale(1,1.1)" font-size="15.2" text-anchor="start" fill="#231f20" stroke="#231f20">typical</text>
<text transform="translate(249.5,83.2) rotate(-12.3) scale(1,1.1)" font-size="15.2" text-anchor="start" fill="#231f20" stroke="#231f20">–</text>
<text transform="translate(262.0,80.5) rotate(-12.3) scale(1,1.1)" font-size="15.2" text-anchor="start" fill="#231f20" stroke="#231f20">eq.</text>
<text transform="translate(284.4,75.6) rotate(-12.3) scale(1,1.1)" font-size="15.2" text-anchor="start" fill="#231f20" stroke="#231f20">diam.</text>
<text transform="translate(202.8,146.9) rotate(-14) scale(1,1.1)" font-size="15.2" text-anchor="start" word-spacing="1.1" stroke-width="0.45">best – minor axis</text>
</svg>
</body></html>
